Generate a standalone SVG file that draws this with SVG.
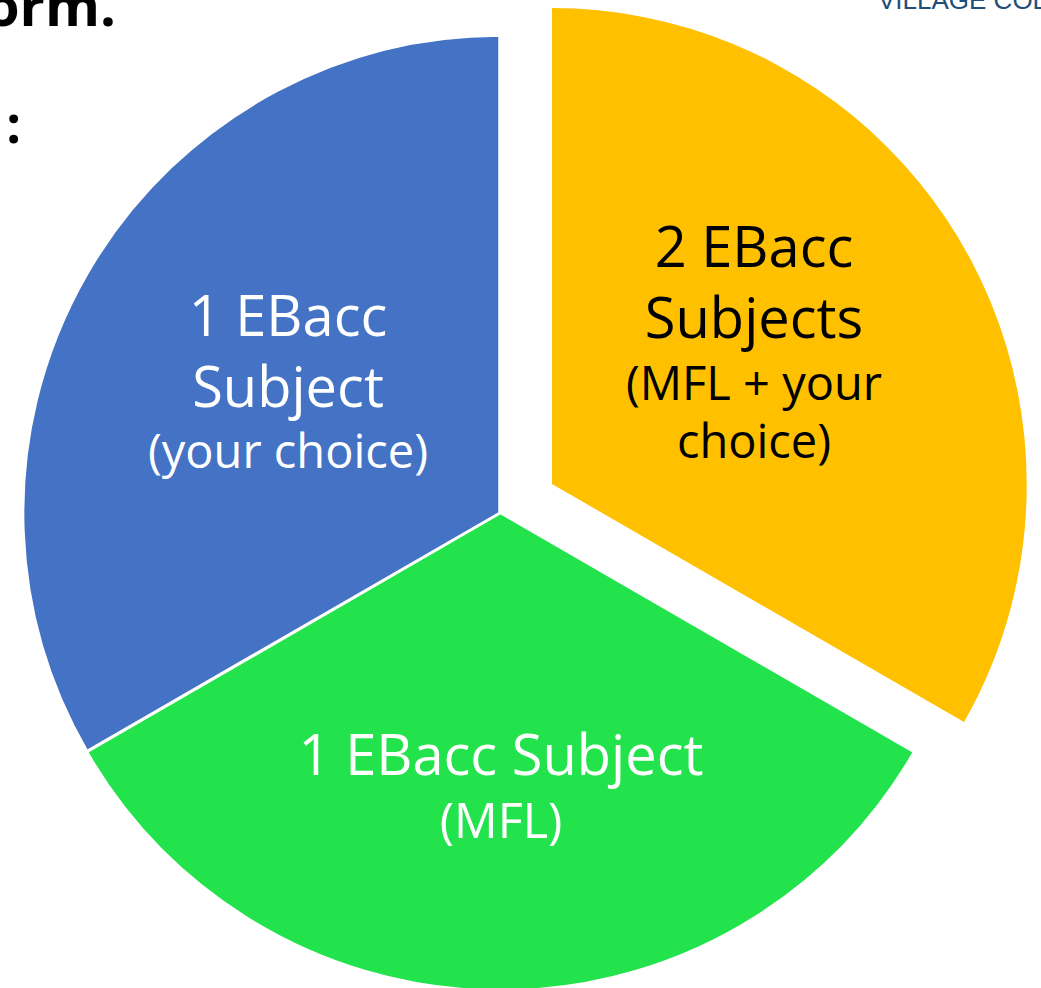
<svg xmlns="http://www.w3.org/2000/svg" width="1041" height="988" viewBox="0 0 1041 988">
<style>
text{font-family:"Open Sans","Noto Sans","Liberation Sans",sans-serif;text-anchor:middle}
.b{font-size:56px}.s{font-size:47px}.w{fill:#fff}.k{fill:#000}
.sl{stroke:#fff;stroke-width:2.5}
</style>
<rect width="1041" height="988" fill="#fff"/>
<g id="bg-text">
<text x="116" y="26" style="text-anchor:end;font-weight:700;font-size:56px" class="k">orm.</text>
<text x="21" y="143" style="text-anchor:end;font-weight:700;font-size:52px" class="k">:</text>
<text x="878" y="9" style="text-anchor:start;font-size:26px;font-family:'Liberation Sans',sans-serif" fill="#1f4e79">VILLAGE COL</text>
</g>
<g id="seg-green"><path class="sl" fill="#23e34d" d="M500.5 513L914 752A477.5 477.5 0 0 1 87 752Z"/></g>
<g id="seg-blue"><path class="sl" fill="#4472c4" d="M499.5 513L87 751A477 477 0 0 1 499.5 35.5Z"/></g>
<g id="seg-amber"><path fill="#ffc000" d="M552 484L552 8A474.7 476 0 0 1 1026.7 484A474.7 476 0 0 1 964 722Z"/></g>
<g id="label-blue">
<text x="288" y="336" class="b w">1 EBacc</text><text x="288" y="407" class="b w">Subject</text><text x="288" y="468" class="s w">(your choice)</text>
</g>
<g id="label-amber">
<text x="754" y="267" class="b k">2 EBacc</text><text x="754" y="338" class="b k">Subjects</text><text x="754" y="400" class="s k">(MFL + your</text><text x="754" y="458" class="s k">choice)</text>
</g>
<g id="label-green">
<text x="501" y="775" class="b w">1 EBacc Subject</text><text x="501" y="838" class="w" style="font-size:48.5px">(MFL)</text>
</g>
<g id="connectors"/>
</svg>
